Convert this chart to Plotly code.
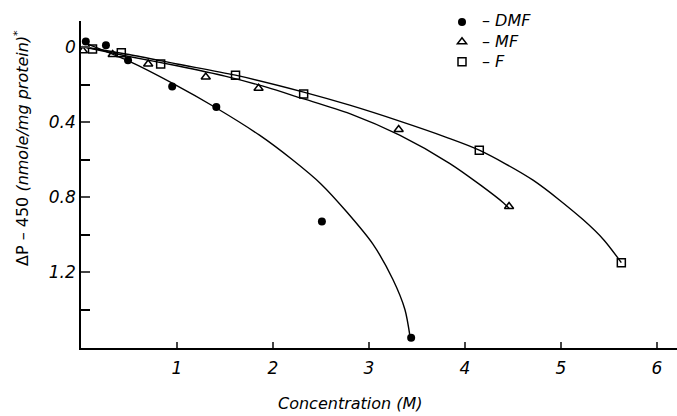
import plotly.graph_objects as go

# Measured data points (Concentration M, ΔP-450 nmole/mg protein)
dmf_x = [0.05, 0.26, 0.49, 0.95, 1.41, 2.51, 3.44]
dmf_y = [-0.03, -0.01, 0.07, 0.21, 0.32, 0.93, 1.55]

mf_x = [0.02, 0.33, 0.70, 1.30, 1.85, 3.31, 4.46]
mf_y = [0.02, 0.04, 0.09, 0.16, 0.22, 0.44, 0.85]

f_x = [0.12, 0.42, 0.83, 1.61, 2.32, 4.15, 5.63]
f_y = [0.01, 0.03, 0.09, 0.15, 0.25, 0.55, 1.15]

# Hand-drawn fitted curves
dmf_cx = [0.05, 0.50, 0.96, 1.41, 1.86, 2.20, 2.50, 2.77, 3.04, 3.25, 3.375, 3.43]
dmf_cy = [-0.02, 0.075, 0.195, 0.325, 0.47, 0.60, 0.73, 0.88, 1.05, 1.24, 1.40, 1.55]

mf_cx = [0.03, 0.50, 1.00, 1.50, 1.94, 2.28, 2.80, 3.32, 3.84, 4.16, 4.40, 4.46]
mf_cy = [0.00, 0.05, 0.10, 0.155, 0.215, 0.27, 0.355, 0.47, 0.62, 0.735, 0.83, 0.86]

f_cx = [0.03, 0.50, 1.00, 1.61, 2.32, 2.80, 3.32, 3.80, 4.15, 4.71, 5.23, 5.45, 5.63]
f_cy = [0.00, 0.04, 0.09, 0.15, 0.24, 0.31, 0.395, 0.48, 0.55, 0.71, 0.92, 1.03, 1.15]

series_names = ["DMF", "MF", "F"]

x_ticks = [1, 2, 3, 4, 5, 6]
y_ticks = [0, 0.4, 0.8, 1.2]
y_ticktext = ["0", "0.4", "0.8", "1.2"]
y_minor = [0.2, 0.6, 1.0, 1.4]

FONT = "DejaVu Sans"
LW = 1.4
W, H = 677, 416
L, T, B = 81, 21, 68
PW, PH = W - L, H - T - B

fig = go.Figure()
for cx, cy in [(dmf_cx, dmf_cy), (mf_cx, mf_cy), (f_cx, f_cy)]:
    fig.add_trace(go.Scatter(x=cx, y=cy, mode="lines",
                             line=dict(color="black", width=LW, shape="spline", smoothing=0.8),
                             showlegend=False, hoverinfo="skip"))

fig.add_trace(go.Scatter(x=dmf_x, y=dmf_y, mode="markers", name=" ",
                         marker=dict(symbol="circle", size=8, color="black")))
fig.add_trace(go.Scatter(x=mf_x, y=mf_y, mode="markers", name=" ",
                         marker=dict(symbol="triangle-up-open", size=8, color="black", line=dict(width=1.5))))
fig.add_trace(go.Scatter(x=f_x, y=f_y, mode="markers", name=" ",
                         marker=dict(symbol="square-open", size=8, color="black", line=dict(width=1.5))))

legend_rows_px = [20, 41, 62]
annotations = [
    dict(text="<i>Concentration (M)</i>", xref="paper", yref="paper", x=(350 - L) / PW,
         y=-(403 - (T + PH)) / PH, showarrow=False, font=dict(family=FONT, size=16),
         xanchor="center", yanchor="middle"),
    dict(text="ΔP – 450 <i>(nmole/mg protein)</i><sup>*</sup>", xref="paper", yref="paper",
         x=-(L - 21) / PW, y=1 - (148 - T) / PH, textangle=-90,
         showarrow=False, font=dict(family=FONT, size=16), xanchor="center", yanchor="middle"),
]
for nm, ypx in zip(series_names, legend_rows_px):
    annotations.append(dict(text="– <i>" + nm + "</i>", xref="paper", yref="paper",
                            x=(480 - L) / PW, y=1 + (T - ypx) / PH, xanchor="left", yanchor="middle",
                            showarrow=False, font=dict(family=FONT, size=16)))

fig.update_layout(
    width=W, height=H,
    margin=dict(l=L, r=0, t=T, b=B, autoexpand=False),
    paper_bgcolor="white", plot_bgcolor="white",
    font=dict(family=FONT, size=16, color="black"),
    legend=dict(x=(462 - 20 - L) / PW, y=1 + (T - 7) / PH, xanchor="left", yanchor="top",
                bgcolor="rgba(0,0,0,0)", font=dict(family=FONT, size=13), tracegroupgap=0, itemwidth=30),
    xaxis=dict(range=[0, 6.21], tickvals=x_ticks, ticks="inside", ticklen=6, tickwidth=1.5,
               showline=True, linecolor="black", linewidth=1.5, showgrid=False, zeroline=False,
               tickfont=dict(family=FONT, size=17, style="italic"), ticklabelstandoff=4),
    yaxis=dict(range=[1.605, -0.139], tickvals=y_ticks, ticktext=y_ticktext, ticks="inside", ticklen=9,
               tickwidth=1.5, showline=True, linecolor="black", linewidth=1.5, showgrid=False, zeroline=False,
               tickfont=dict(family=FONT, size=17, style="italic"),
               minor=dict(tickvals=y_minor, ticks="inside", ticklen=9, tickwidth=1.5, tickcolor="black",
                          showgrid=False)),
    annotations=annotations,
)

fig.write_html("out.html", config={"displayModeBar": False},
               post_script="document.body.style.margin='0';document.body.style.padding='0';")
